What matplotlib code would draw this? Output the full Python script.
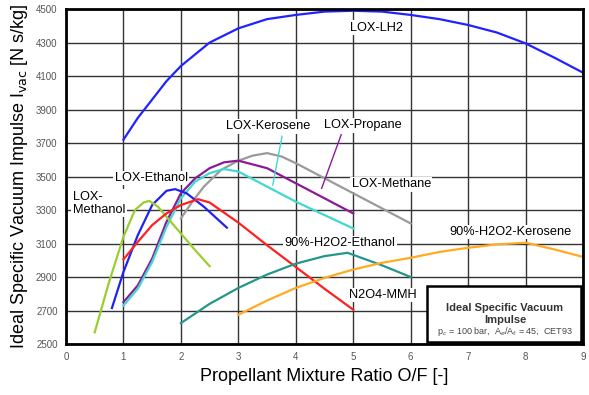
import matplotlib.pyplot as plt

plt.rcParams['font.family'] = ['Liberation Sans', 'DejaVu Sans']

# data (O/F, Ivac N s/kg)
lh2_x = [1, 1.25, 1.5, 1.75, 2, 2.5, 3, 3.5, 4, 4.5, 5, 5.5, 6, 6.5, 7, 7.5, 8, 8.5, 9]
lh2_y = [3720, 3850, 3960, 4070, 4160, 4300, 4385, 4440, 4465, 4485, 4490, 4485, 4465, 4440, 4405, 4360, 4295, 4210, 4120]

methane_x = [2, 2.2, 2.4, 2.7, 3, 3.25, 3.5, 3.75, 4, 4.5, 5, 5.5, 6]
methane_y = [3250, 3350, 3440, 3540, 3595, 3625, 3640, 3620, 3580, 3490, 3400, 3310, 3220]

propane_x = [1, 1.25, 1.5, 1.75, 2, 2.25, 2.5, 2.75, 3, 3.5, 4, 4.5, 5]
propane_y = [2750, 2850, 3010, 3230, 3400, 3490, 3550, 3585, 3595, 3550, 3460, 3370, 3280]

kerosene_x = [1, 1.25, 1.5, 1.75, 2, 2.25, 2.5, 2.75, 3, 3.5, 4, 4.5, 5]
kerosene_y = [2730, 2830, 2990, 3200, 3370, 3470, 3520, 3545, 3530, 3440, 3350, 3270, 3190]

ethanol_x = [0.8, 1, 1.25, 1.5, 1.75, 1.9, 2.1, 2.4, 2.8]
ethanol_y = [2715, 2930, 3150, 3330, 3415, 3425, 3400, 3320, 3195]

methanol_x = [0.5, 0.75, 1, 1.2, 1.35, 1.45, 1.6, 1.75, 2, 2.25, 2.5]
methanol_y = [2570, 2870, 3140, 3300, 3345, 3355, 3320, 3260, 3160, 3060, 2965]

mmh_x = [1, 1.25, 1.5, 1.75, 2, 2.3, 2.5, 3, 3.5, 4, 4.5, 5]
mmh_y = [3005, 3110, 3210, 3280, 3330, 3365, 3345, 3225, 3090, 2960, 2830, 2705]

h2o2_eth_x = [2, 2.5, 3, 3.5, 4, 4.5, 4.9, 5.5, 6]
h2o2_eth_y = [2625, 2740, 2835, 2915, 2980, 3025, 3045, 2970, 2900]

h2o2_ker_x = [3, 3.5, 4, 4.5, 5, 5.5, 6, 6.5, 7, 7.5, 8, 8.5, 9]
h2o2_ker_y = [2675, 2760, 2835, 2895, 2945, 2985, 3015, 3050, 3075, 3095, 3105, 3065, 3020]

x_ticks = list(range(0, 10))
y_ticks = list(range(2500, 4501, 200))

fig = plt.figure(figsize=(5.89, 3.95), dpi=100)
ax = fig.add_axes([0.112, 0.129, 0.878, 0.848])

ax.plot(lh2_x, lh2_y, color='#2222ff', lw=1.6)
ax.plot(methane_x, methane_y, color='#9a9a9a', lw=1.6)
ax.plot(propane_x, propane_y, color='#8b1a9b', lw=1.6)
ax.plot(kerosene_x, kerosene_y, color='#40d8d0', lw=1.6)
ax.plot(ethanol_x, ethanol_y, color='#2222ee', lw=1.6)
ax.plot(methanol_x, methanol_y, color='#9acd32', lw=1.6)
ax.plot(mmh_x, mmh_y, color='#ff2020', lw=1.6)
ax.plot(h2o2_eth_x, h2o2_eth_y, color='#23978a', lw=1.6)
ax.plot(h2o2_ker_x, h2o2_ker_y, color='#ffaa22', lw=1.6)

ax.set_xlim(0, 9)
ax.set_ylim(2500, 4500)
ax.set_xticks(x_ticks)
ax.set_yticks(y_ticks)
ax.grid(True, color='#333333', lw=1)
ax.set_axisbelow(True)
ax.tick_params(length=0, labelsize=7, labelcolor='#555555', pad=6)
for s in ax.spines.values():
    s.set_linewidth(2)

ax.set_xlabel('Propellant Mixture Ratio O/F [-]', fontsize=13)
ax.set_ylabel('Ideal Specific Vacuum Impulse I$_{\\mathrm{vac}}$ [N s/kg]', fontsize=13)

# curve labels sit above the grid but under the curves
wb = dict(facecolor='white', edgecolor='none', pad=1)
fs = 9.2
lab = dict(fontsize=fs, ha='center', va='center', bbox=wb, zorder=1)
ax.text(5.4, 4390, 'LOX-LH2', **lab)
ax.text(3.52, 3800, 'LOX-Kerosene', **lab)
ax.plot([3.76, 3.6], [3740, 3450], color='#40d8d0', lw=1)
ax.text(5.16, 3807, 'LOX-Propane', **lab)
ax.plot([4.79, 4.45], [3750, 3430], color='#8b1a9b', lw=1)
ax.text(5.66, 3455, 'LOX-Methane', **lab)
ax.text(1.48, 3491, 'LOX-Ethanol', **lab)
ax.text(0.12, 3340, 'LOX-\nMethanol', fontsize=fs, ha='left', va='center',
        linespacing=1.15, bbox=wb, zorder=1)
ax.text(4.77, 3103, '90%-H2O2-Ethanol', **lab)
ax.text(7.73, 3169, '90%-H2O2-Kerosene', **lab)
ax.text(5.52, 2793, 'N2O4-MMH', **lab)

ax.text(7.64, 2680, 'Ideal Specific Vacuum\nImpulse', fontsize=8, fontweight='bold',
        color='#333333', ha='center', va='center', linespacing=1.3, zorder=6)
ax.text(7.64, 2575, 'p$_c$ = 100 bar,  A$_e$/A$_t$ = 45,  CET93', fontsize=6.5,
        color='#444444', ha='center', va='center', zorder=6)
ax.add_patch(plt.Rectangle((6.28, 2515), 2.68, 330, facecolor='white',
                           edgecolor='black', lw=1.8, zorder=5))

fig.savefig('out.png', dpi=100)
